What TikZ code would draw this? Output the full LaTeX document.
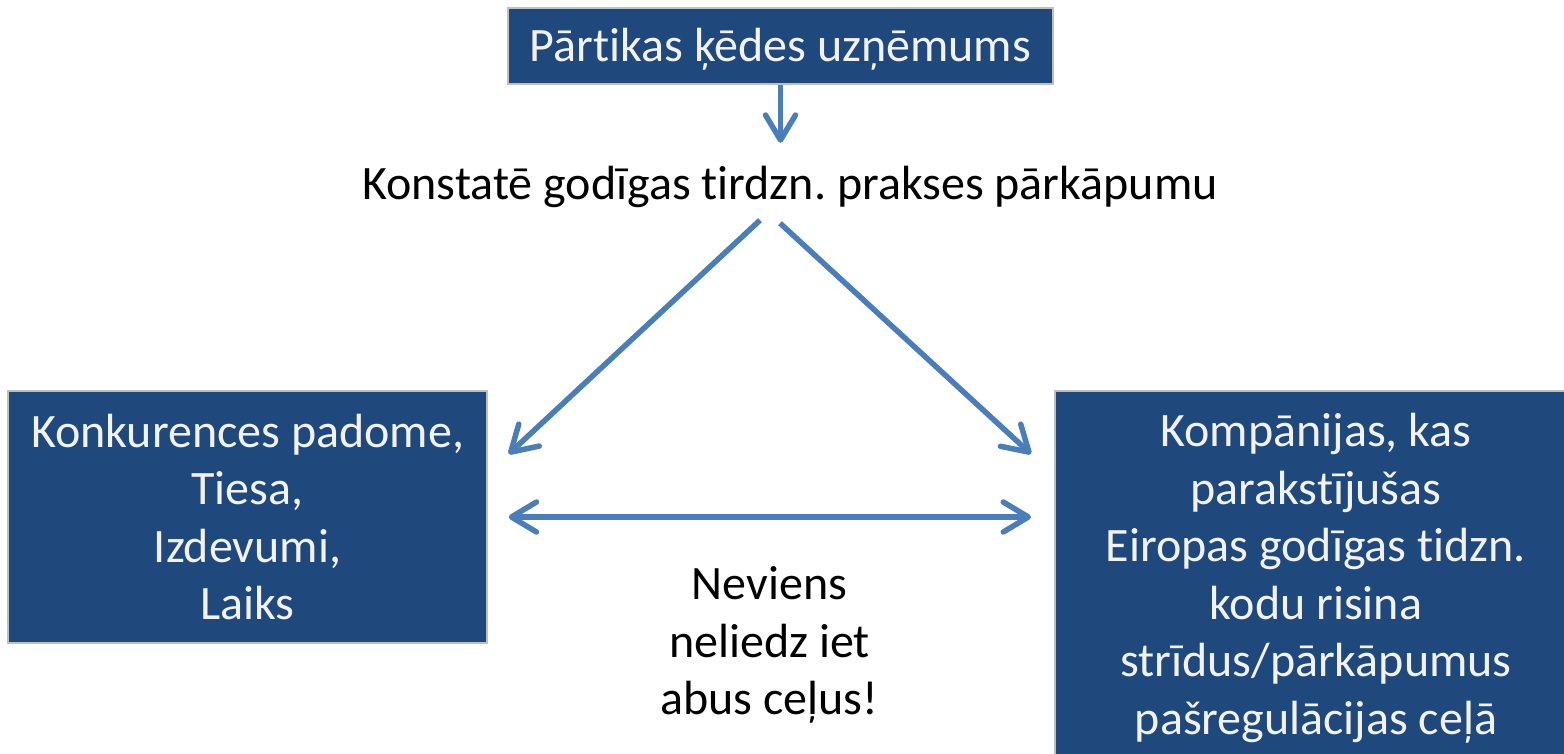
\documentclass[tikz,border=0pt]{standalone}
\usepackage{fontspec}
\setmainfont{Carlito}[Ligatures=NoCommon]
\usetikzlibrary{arrows.meta,calc}
\definecolor{boxblue}{HTML}{1F497D}
\definecolor{arrowblue}{HTML}{4A7EBB}
\definecolor{boxtext}{HTML}{F2F2F2}
\definecolor{boxborder}{HTML}{BFBFBF}
\frenchspacing
\begin{document}
\begin{tikzpicture}[x=1pt,y=-1pt,
  bigfont/.style={font=\fontsize{48}{57.5}\selectfont},
  bluebox/.style={draw=boxborder, line width=2pt, fill=boxblue, text=boxtext, align=center, inner sep=0pt, bigfont},
  plaintext/.style={text=black, align=center, inner sep=0pt, bigfont},
  barb/.tip={Straight Barb[length=25pt,width=30pt,round]},
  conn/.style={draw=arrowblue, line width=5.5pt, -barb},
  dconn/.style={draw=arrowblue, line width=5.5pt, barb-barb}
]
\useasboundingbox (0,0) rectangle (1564,754);
\begin{scope}
\clip (0,0) rectangle (1564,754);
\node[bluebox, minimum width=545pt, minimum height=76pt, text height=40pt, text depth=8pt] (top) at (780.5,46) {Pārtikas ķēdes uzņēmums};
\node[plaintext, text height=35pt, text depth=10pt] (mid) at (790,187.5) {Konstatē godīgas tirdzn. prakses pārkāpumu};
\node[bluebox, minimum width=479pt, minimum height=252pt] (left) at (247.5,517) {Konkurences padome,\\Tiesa,\\Izdevumi,\\Laiks};
\node[bluebox, minimum width=522pt, minimum height=374pt] (right) at (1316,578) {Kompānijas, kas\\parakstījušas\\Eiropas godīgas tidzn.\\kodu risina\\strīdus/pārkāpumus\\pašregulācijas ceļā};
\node[plaintext] (note) at (769.5,645) {Neviens\\neliedz iet\\abus ceļus!};
\end{scope}
\draw[conn, shorten >=22pt] (top.south) -- (top.south |- mid.north);
\draw[conn] ($(mid.south)+(-30,10)$) -- ($(left.east)+(20.7,-63)$);
\draw[conn] ($(mid.south)+(-10,13)$) -- ($(left.east -| right.west)+(-23,-63)$);
\draw[dconn, shorten <=20.7pt, shorten >=23pt] (left.east) -- (left.east -| right.west);
\end{tikzpicture}
\end{document}
